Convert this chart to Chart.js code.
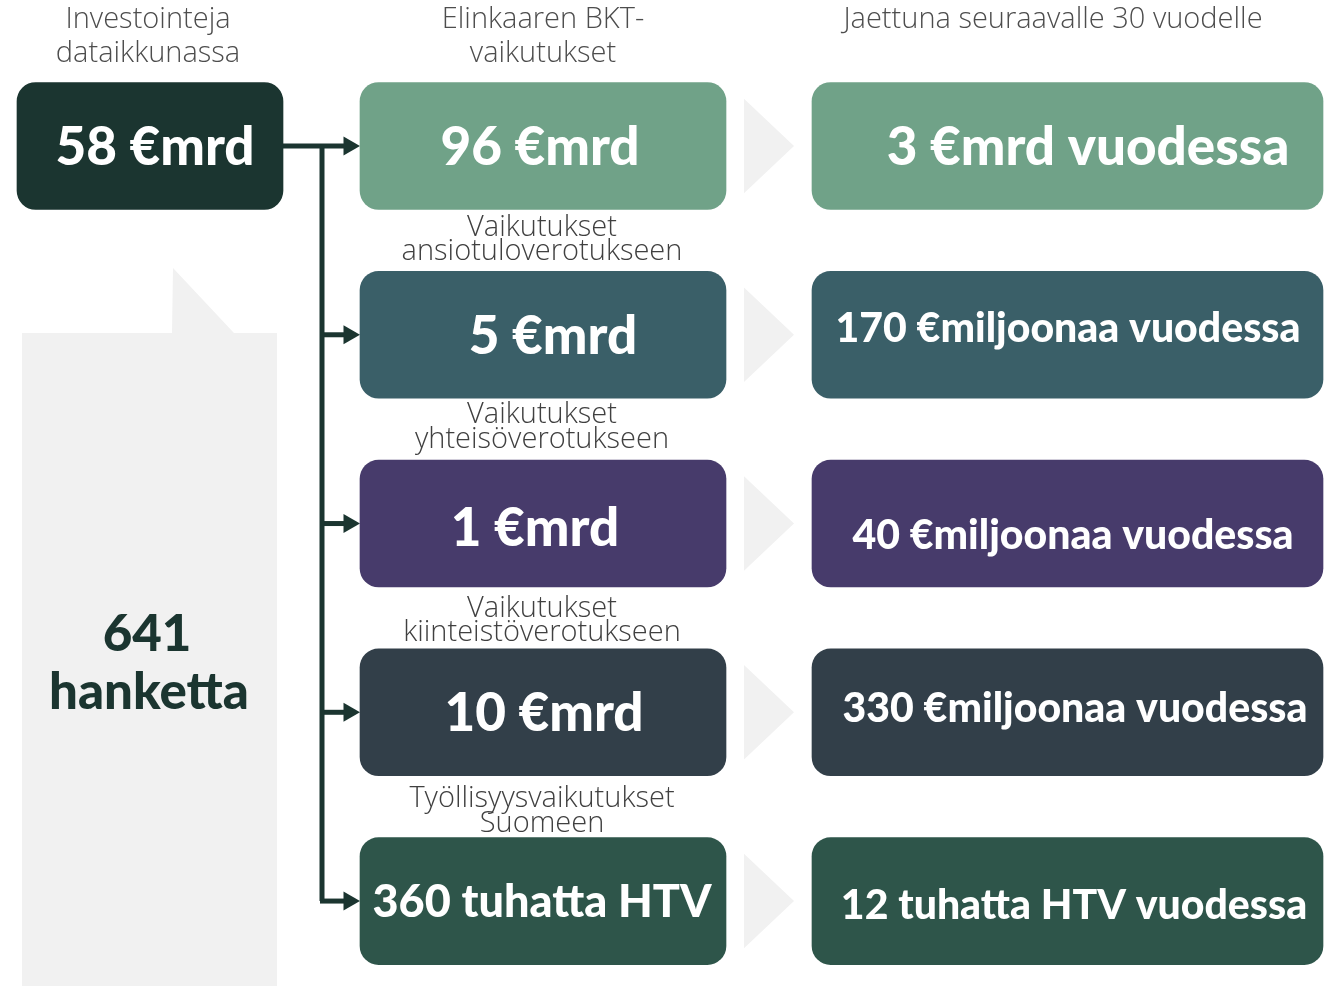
<!DOCTYPE html>
<html>
<head>
<meta charset="utf-8">
<script src="https://cdn.jsdelivr.net/npm/chart.js@4.4.0/dist/chart.umd.min.js"></script>
<style>
html,body{margin:0;padding:0;background:#fff;overflow:hidden}
#wrap{width:1332px;height:986px;position:relative}
</style>
</head>
<body>
<div id="wrap"><canvas id="myChart"></canvas></div>
<script>
// data
const headers = [['Investointeja','dataikkunassa'], ['Elinkaaren BKT-','vaikutukset'], ['Jaettuna seuraavalle 30 vuodelle']];
const investment = '58 €mrd';
const projects = ['641', 'hanketta'];
const rows = [0, 1, 2, 3, 4];
const lifecycle = ['96 €mrd', '5 €mrd', '1 €mrd', '10 €mrd', '360 tuhatta HTV'];
const perYear = ['3 €mrd vuodessa', '170 €miljoonaa vuodessa', '40 €miljoonaa vuodessa', '330 €miljoonaa vuodessa', '12 tuhatta HTV vuodessa'];
const effectLabels = [['Vaikutukset','ansiotuloverotukseen'], ['Vaikutukset','yhteisöverotukseen'], ['Vaikutukset','kiinteistöverotukseen'], ['Työllisyysvaikutukset','Suomeen']];

// colours
const dark = '#1b3530';
const rowColors = ['#70a288', '#3a5f68', '#473b6b', '#323f49', '#2e554a'];
const grey = '#f1f1f1';

// layout (x in px, y in row units)
const colLeft = [17, 283], colMid = [360, 726], colRight = [812, 1323];
const midTextX = [540, 553, 535, 544, 542];
const midTextDy = [0.01, 0.01, 0.03, 0.01, 0.01];
const midFont = [53, 53, 53, 53, 45];
const rightTextX = [1088, 1068, 1073, 1075, 1074];
const rightTextDy = [0.01, -0.03, 0.065, -0.018, 0.025];
const rightFont = [53, 41, 41, 41, 41];
const effectDy = [[0.434, 0.561], [0.425, 0.557], [0.453, 0.58], [0.459, 0.592]];

const texts = [];
function addText(t, x, y, size, weight, color, family) {
  texts.push({t: t, x: x, y: y, size: size, weight: weight, color: color, family: family || 'Lato'});
}
const headerX = [148, 543, 1053];
headers.forEach(function (h, i) {
  h.forEach(function (line, j) { addText(line, headerX[i], -0.667 + j * 0.18, 29, 300, '#4d4d4d', '"Open Sans"'); });
});
addText(investment, 155, 0.01, 53, 900, '#ffffff');
addText(projects[0], 147, 2.59, 51, 900, dark);
addText(projects[1], 149, 2.893, 51, 900, dark);
rows.forEach(function (r) {
  addText(lifecycle[r], midTextX[r], r + midTextDy[r], midFont[r], 900, '#ffffff');
  addText(perYear[r], rightTextX[r], r + rightTextDy[r], rightFont[r], 900, '#ffffff');
});
effectLabels.forEach(function (lab, i) {
  addText(lab[0], 542, i + effectDy[i][0], 29, 300, '#404040', '"Open Sans"');
  addText(lab[1], 542, i + effectDy[i][1], 29, 300, '#404040', '"Open Sans"');
});

// grey shapes behind the boxes, texts on top
const shapesPlugin = {
  id: 'shapes',
  beforeDatasetsDraw: function (chart) {
    const ctx = chart.ctx, x = chart.scales.x, y = chart.scales.y;
    ctx.save();
    ctx.fillStyle = grey;
    // speech callout
    ctx.beginPath();
    ctx.moveTo(x.getPixelForValue(22), y.getPixelForValue(0.991));
    ctx.lineTo(x.getPixelForValue(172), y.getPixelForValue(0.991));
    ctx.lineTo(x.getPixelForValue(173), y.getPixelForValue(0.646));
    ctx.lineTo(x.getPixelForValue(234), y.getPixelForValue(0.991));
    ctx.lineTo(x.getPixelForValue(277), y.getPixelForValue(0.991));
    ctx.lineTo(x.getPixelForValue(277), y.getPixelForValue(4.45));
    ctx.lineTo(x.getPixelForValue(22), y.getPixelForValue(4.45));
    ctx.closePath();
    ctx.fill();
    // chevrons
    rows.forEach(function (r) {
      ctx.beginPath();
      ctx.moveTo(x.getPixelForValue(744), y.getPixelForValue(r - 0.25));
      ctx.lineTo(x.getPixelForValue(794), y.getPixelForValue(r));
      ctx.lineTo(x.getPixelForValue(744), y.getPixelForValue(r + 0.25));
      ctx.closePath();
      ctx.fill();
    });
    ctx.restore();
  },
  afterDatasetsDraw: function (chart) {
    const ctx = chart.ctx, x = chart.scales.x, y = chart.scales.y;
    ctx.save();
    ctx.textAlign = 'center';
    ctx.textBaseline = 'middle';
    texts.forEach(function (o) {
      ctx.font = o.weight + ' ' + o.size + 'px ' + o.family;
      ctx.fillStyle = o.color;
      ctx.fillText(o.t, x.getPixelForValue(o.x), y.getPixelForValue(o.y));
    });
    ctx.restore();
  }
};

const barStyle = {type: 'bar', barThickness: 127, borderRadius: 19, borderSkipped: false, grouped: false};
const lineStyle = {type: 'line', borderColor: dark, borderWidth: 5, pointRadius: 0, fill: false, tension: 0};

const datasets = [
  Object.assign({data: rows.map(function (r) { return {x: colMid, y: r}; }), backgroundColor: rowColors}, barStyle),
  Object.assign({data: rows.map(function (r) { return {x: colRight, y: r}; }), backgroundColor: rowColors}, barStyle),
  Object.assign({data: [{x: colLeft, y: 0}], backgroundColor: dark}, barStyle),
  Object.assign({data: [{x: 283, y: 0}, {x: 346, y: 0}]}, lineStyle),
  Object.assign({data: [{x: 322, y: 0}, {x: 322, y: 4}]}, lineStyle),
  {type: 'scatter', data: rows.map(function (r) { return {x: 349, y: r}; }), pointStyle: 'triangle', rotation: 90,
   pointRadius: 11, backgroundColor: dark, borderWidth: 0}
];
rows.slice(1).forEach(function (r) {
  datasets.push(Object.assign({data: [{x: 320, y: r}, {x: 346, y: r}]}, lineStyle));
});

const myChart = new Chart(document.getElementById('myChart').getContext('2d'), {
  type: 'bar',
  data: {datasets: datasets},
  options: {
    indexAxis: 'y',
    responsive: true,
    maintainAspectRatio: false,
    animation: false,
    layout: {padding: 0, autoPadding: false},
    plugins: {legend: {display: false}, tooltip: {enabled: false}},
    scales: {
      x: {type: 'linear', min: 0, max: 1332, display: false},
      y: {type: 'linear', min: -0.7735, max: 4.45, reverse: true, display: false, offset: false}
    }
  },
  plugins: [shapesPlugin]
});
</script>
</body>
</html>
